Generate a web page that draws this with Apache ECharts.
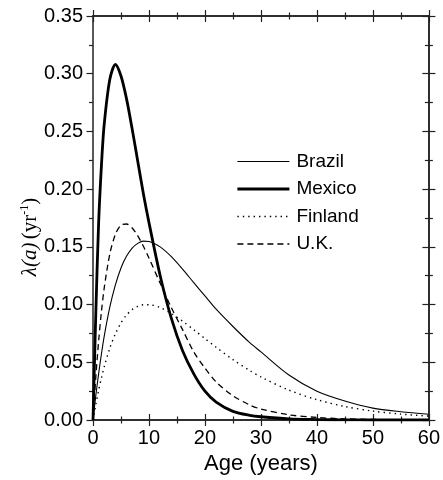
<!DOCTYPE html>
<html>
<head>
<meta charset="utf-8">
<script src="https://cdn.jsdelivr.net/npm/echarts@6/dist/echarts.min.js"></script>
<style>html,body{margin:0;padding:0;background:#fff;}#c{width:443px;height:480px;}</style>
</head>
<body>
<div id="c"></div>
<script>
const ages = [0,0.5,1,1.5,2,3,4,5,6,7,8,9,10,12,14,16,18,20,22,25,28,30,35,40,45,50,55,60];
const brazil = [0,0.021,0.040,0.057,0.0725,0.0977,0.117,0.1317,0.142,0.149,0.153,0.155,0.1547,0.150,0.1415,0.1307,0.119,0.1075,0.096,0.081,0.067,0.059,0.039,0.025,0.0165,0.0103,0.0072,0.0050];
const mexico = [0,0.092,0.170,0.220,0.256,0.295,0.308,0.298,0.278,0.252,0.224,0.196,0.171,0.125,0.088,0.060,0.040,0.025,0.0155,0.0075,0.0040,0.0028,0.0010,0.0004,0.0001,0,0,0];
const finland = [0,0.0134,0.0255,0.0363,0.046,0.0622,0.0747,0.0841,0.091,0.0956,0.0985,0.0998,0.0999,0.0974,0.0922,0.0856,0.0782,0.0705,0.063,0.0523,0.0429,0.0373,0.0259,0.0176,0.0117,0.0077,0.0051,0.0034];
const uk = [0,0.0371,0.0681,0.0935,0.1142,0.1437,0.1608,0.1687,0.1698,0.1663,0.1595,0.1505,0.1403,0.1185,0.0973,0.0783,0.059,0.045,0.033,0.021,0.013,0.0095,0.0045,0.0022,0.0010,0.0005,0.0002,0.0001];
const seriesNames = ['Brazil','Mexico','Finland','U.K.'];
const xTickLabels = ['0','10','20','30','40','50','60'];
const yTickLabels = ['0.00','0.05','0.10','0.15','0.20','0.25','0.30','0.35'];

const pairs = v => ages.map((a,i)=>[a,v[i]]);
const axCol = '#222';
const font = 'Liberation Sans, Arial, sans-serif';
const styles = {
  'Brazil': {color:'#000', width:1.1, type:'solid'},
  'Mexico': {color:'#000', width:2.8, type:'solid'},
  'Finland': {color:'#000', width:1.4, type:[1.4,4]},
  'U.K.': {color:'#000', width:1.3, type:[6,4]}
};
const valuesByName = {'Brazil':brazil, 'Mexico':mexico, 'Finland':finland, 'U.K.':uk};

function xAx(pos, inside, labels) {
  return {
    type:'value', position:pos, min:0, max:60, interval:10,
    axisLine:{show:true, onZero:false, lineStyle:{color:axCol, width:1.5}},
    axisTick:{show:true, inside:inside, length:6, lineStyle:{color:axCol, width:1.2}},
    minorTick:{show:true, splitNumber:2, length:3.5, lineStyle:{color:axCol, width:1.2}},
    splitLine:{show:false},
    axisLabel:{show:labels, margin:8, color:'#000', fontSize:20, fontFamily:font,
      formatter: v => xTickLabels[Math.round(v/10)]},
    name: labels ? 'Age (years)' : '', nameLocation:'middle', nameGap:33,
    nameTextStyle:{color:'#000', fontSize:22, fontFamily:font}
  };
}
function yAx(pos, inside, labels, showTick) {
  return {
    type:'value', position:pos, min:0, max:0.35, interval:0.05,
    axisLine:{show:true, onZero:false, lineStyle:{color:axCol, width:1.5}},
    axisTick:{show:showTick, inside:inside, length:6.5, lineStyle:{color:axCol, width:1.2}},
    minorTick:{show:showTick, splitNumber:2, length:4, lineStyle:{color:axCol, width:1.2}},
    splitLine:{show:false},
    axisLabel:{show:labels, margin:10, color:'#000', fontSize:20, fontFamily:font,
      formatter: v => yTickLabels[Math.round(v/0.05)]}
  };
}

const chart = echarts.init(document.getElementById('c'), null, {renderer:'canvas'});
chart.setOption({
  animation:false,
  backgroundColor:'#fff',
  grid:{left:93, right:9, top:16, bottom:60, containLabel:false},
  xAxis:[xAx('bottom',false,true), xAx('bottom',true,false), xAx('top',false,false), xAx('top',true,false)],
  yAxis:[yAx('left',false,true,true), yAx('right',false,false,true), yAx('right',true,false,true)],
  legend:{
    show:true, orient:'vertical', left:236, top:152, padding:0, itemWidth:52, itemHeight:14, itemGap:8.5,
    itemStyle:{opacity:0, borderWidth:0},
    data:seriesNames.map(n => ({name:n, lineStyle:styles[n], itemStyle:{opacity:0, borderWidth:0}})),
    textStyle:{color:'#000', fontSize:19, fontFamily:font, lineHeight:19, padding:[0,0,0,2]}
  },
  graphic:[{
    type:'text', x:30, y:237, rotation:Math.PI/2,
    style:{
      text:'{i|λ(a)} {n|(yr}{s|-1}{n|)}',
      textAlign:'center', textVerticalAlign:'middle', fill:'#000',
      rich:{
        i:{fontFamily:'Liberation Serif, Times New Roman, serif', fontStyle:'italic', fontSize:21, fill:'#000'},
        n:{fontFamily:'Liberation Serif, Times New Roman, serif', fontSize:21, fill:'#000'},
        s:{fontFamily:'Liberation Serif, Times New Roman, serif', fontSize:12, fill:'#000', verticalAlign:'top', lineHeight:22}
      }
    }
  }],
  series: seriesNames.map(n => ({
    name:n, type:'line', data:pairs(valuesByName[n]), showSymbol:false, symbol:'none', smooth:0.3,
    lineStyle:styles[n], itemStyle:{color:'#000'}
  }))
});
</script>
</body>
</html>
